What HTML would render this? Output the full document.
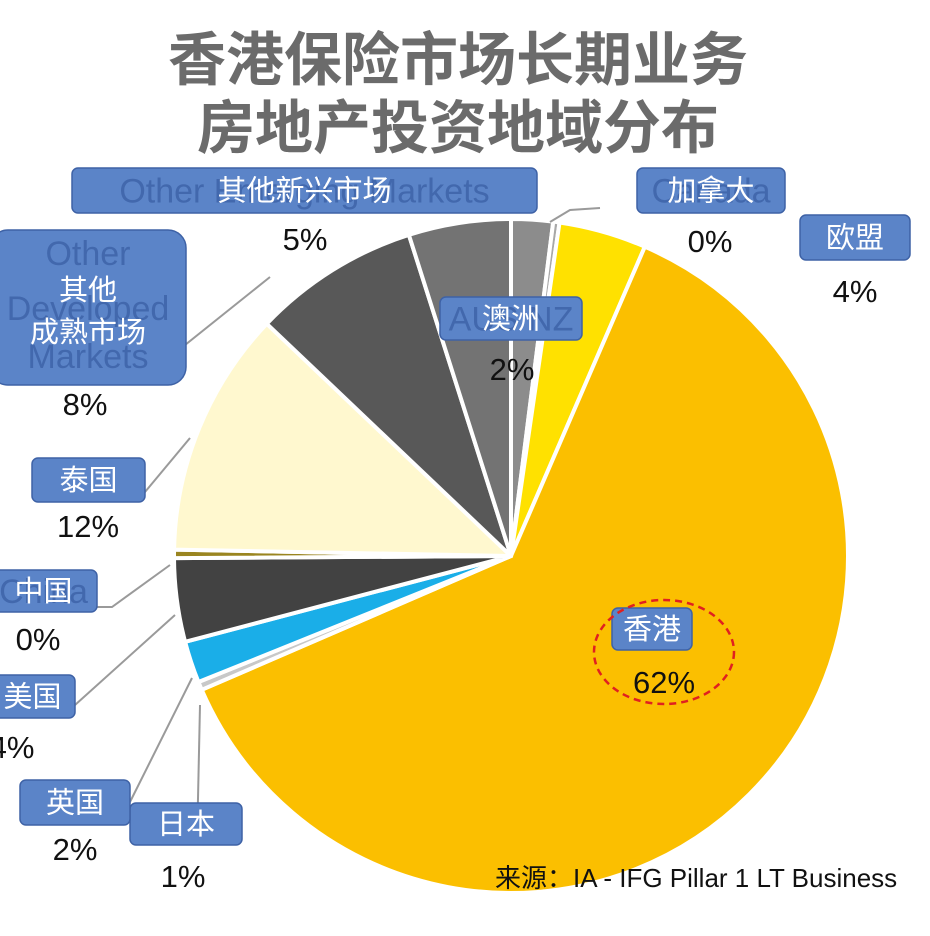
<!DOCTYPE html>
<html><head><meta charset="utf-8"><style>
html,body{margin:0;padding:0;background:#fff;}
body{width:930px;height:931px;overflow:hidden;font-family:"Liberation Sans","Noto Sans CJK SC",sans-serif;}
</style></head><body>
<svg id="chart" width="930" height="931" viewBox="0 0 930 931" xmlns="http://www.w3.org/2000/svg" font-family="'Liberation Sans','Noto Sans CJK SC',sans-serif">
<text x="458" y="80" text-anchor="middle" font-size="58" font-weight="bold" fill="#6b6b6b" font-family="'Noto Sans CJK SC',sans-serif">香港保险市场长期业务</text>
<text x="458" y="148" text-anchor="middle" font-size="58" font-weight="bold" fill="#6b6b6b" font-family="'Noto Sans CJK SC',sans-serif">房地产投资地域分布</text>
<g id="slices"></g>
<g id="leaders" stroke="#9a9a9a" stroke-width="2" fill="none">
<polyline points="163,347 185,345 270,277"/>
<polyline points="550,222 570,210 600,208"/>
<polyline points="140,498 190,438"/>
<polyline points="97,607 112,607 170,565"/>
<polyline points="75,705 175,615"/>
<polyline points="130,802 192,678"/>
<polyline points="197,845 200,705"/>
</g>
<g id="labels"></g>
<ellipse cx="664" cy="652" rx="70" ry="52" fill="none" stroke="#e02020" stroke-width="2.5" stroke-dasharray="7,5"/>
<text x="495" y="887" font-size="26" fill="#111">来源：IA - IFG Pillar 1 LT Business</text>
</svg>
<script>
const categories=["澳洲","加拿大","欧盟","香港","日本","英国","美国","中国","泰国","其他成熟市场","其他新兴市场"];
const values=[2,0.3,4.2,62,0.4,2,4,0.4,11.8,8,4.9];
const percentLabels=["2%","0%","4%","62%","1%","2%","4%","0%","12%","8%","5%"];
const colors=["#8c8c8c","#a8a8a8","#ffe100","#fbbf00","#c8c8c8","#1aaee8","#424242","#9a8520","#fff8cf","#585858","#737373"];
const NS="http://www.w3.org/2000/svg";
const cx=511,cy=556,R=337;
const total=values.reduce((a,b)=>a+b,0);
function pt(a,r){return [cx+r*Math.sin(a),cy-r*Math.cos(a)];}
const g=document.getElementById('slices');
let acc=0;
values.forEach((v,i)=>{
  const a0=acc/total*2*Math.PI;acc+=v;const a1=acc/total*2*Math.PI;
  const p0=pt(a0,R),p1=pt(a1,R);
  const large=(a1-a0)>Math.PI?1:0;
  const p=document.createElementNS(NS,'path');
  p.setAttribute('d',`M${cx},${cy} L${p0[0]},${p0[1]} A${R},${R} 0 ${large} 1 ${p1[0]},${p1[1]} Z`);
  p.setAttribute('fill',colors[i]);p.setAttribute('stroke','#fff');p.setAttribute('stroke-width','4');p.setAttribute('stroke-linejoin','round');
  
  
  g.appendChild(p);
});
const boxes=[
 [440,297,142,43,"AUS NZ",["澳洲"],512,380,6],
 [637,168,148,45,"Canada",["加拿大"],710,252,6],
 [800,215,110,45,"",["欧盟"],855,302,6],
 [612,608,80,42,"",["香港"],664,693,6],
 [130,803,112,42,"",["日本"],183,887,6],
 [20,780,110,45,"",["英国"],75,860,6],
 [-10,675,85,43,"",["美国"],12,758,6],
 [-10,570,107,42,"China",["中国"],38,650,6],
 [32,458,113,44,"",["泰国"],88,537,6],
 [-10,230,196,155,"",["其他","成熟市场"],85,415,18],
 [72,168,465,45,"Other Emerging Markets",["其他新兴市场"],305,250,6]
];
const L=document.getElementById('labels');
boxes.forEach((b,i)=>{
  const r=document.createElementNS(NS,'rect');
  r.setAttribute('x',b[0]);r.setAttribute('y',b[1]);r.setAttribute('width',b[2]);r.setAttribute('height',b[3]);r.setAttribute('rx',b[8]);
  r.setAttribute('fill','#5b84c8');r.setAttribute('stroke','#3e62a6');r.setAttribute('stroke-width','1.5');
  
  
  L.appendChild(r);
  const mx=b[0]+b[2]/2;
  if(b[4]){const t=document.createElementNS(NS,'text');t.setAttribute('x',mx);t.setAttribute('y',b[1]+b[3]/2+12);t.setAttribute('text-anchor','middle');t.setAttribute('font-size','34');t.setAttribute('fill','#4268ad');t.textContent=b[4];
    
    
    L.appendChild(t);}
  if(i===9){[["Other",265],["Developed",320],["Markets",368]].forEach(([s,y])=>{const t=document.createElementNS(NS,'text');t.setAttribute('x',mx);t.setAttribute('y',y);t.setAttribute('text-anchor','middle');t.setAttribute('font-size','34');t.setAttribute('fill','#4268ad');t.textContent=s;
    
    
    L.appendChild(t);});}
  const n=b[5].length;
  b[5].forEach((s,k)=>{
    const t=document.createElementNS(NS,'text');
    const y=n===1?b[1]+b[3]/2+10:[300,342][k];
    t.setAttribute('x',mx);t.setAttribute('y',y);t.setAttribute('text-anchor','middle');t.setAttribute('font-size','29');t.setAttribute('fill','#fff');
    t.textContent=s;
    
    
    L.appendChild(t);
  });
  const p=document.createElementNS(NS,'text');
  p.setAttribute('x',b[6]);p.setAttribute('y',b[7]);p.setAttribute('text-anchor','middle');p.setAttribute('font-size','31');p.setAttribute('fill','#111');
  p.textContent=percentLabels[i];
  
  
  L.appendChild(p);
});
</script>
</body></html>
